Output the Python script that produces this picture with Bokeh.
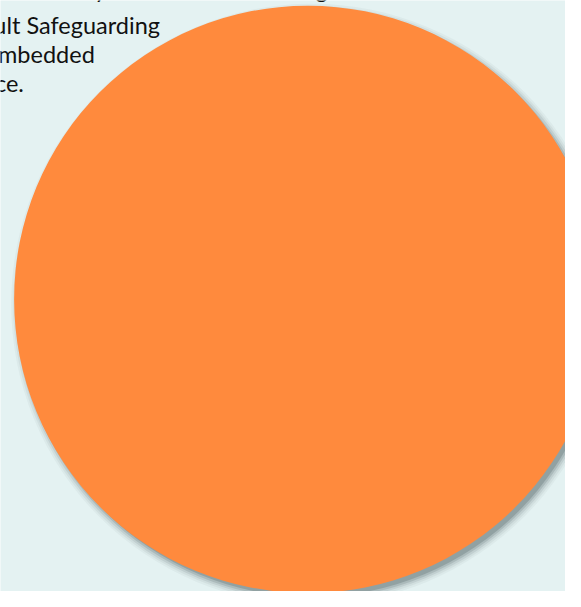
from bokeh.plotting import figure
from bokeh.models import Range1d, ColumnDataSource
from bokeh.core.properties import value
from bokeh.embed import file_html
from bokeh.resources import INLINE

# --- data (reference pixel space, y measured downward from top) ---
bubble_label = ["Adult Safeguarding"]
bubble_cx = [316]
bubble_cy = [307]
bubble_r = [302]

text_lines = [
    "Board is fully aware there is strong",
    "Adult Safeguarding",
    "embedded",
    "practice.",
]
text_right = [337, 164, 97, 24]
text_base = [-12, 25, 55, 85]

W, H = 581, 607
BG = "#E4F2F2"
ORANGE = "#FF8A3D"

p = figure(width=565, height=591, output_backend="svg", toolbar_location=None,
           x_range=Range1d(0, W), y_range=Range1d(0, H),
           min_border=0)
p.axis.visible = False
p.grid.visible = False
p.outline_line_color = None
p.background_fill_color = BG
p.border_fill_color = BG

# text (drawn first, behind the bubble)
tsrc = ColumnDataSource(dict(x=text_right, y=[H - b for b in text_base], t=text_lines))
p.text(x="x", y="y", text="t", source=tsrc, text_align="right",
       text_baseline="alphabetic", text_font=value("Lato"),
       text_font_size="23.5px", text_color="#111111")

# soft drop shadow
for k, a in [(7, 0.05), (5, 0.08), (3, 0.13), (1, 0.2), (-1, 0.3)]:
    p.circle(x=[c + 4 for c in bubble_cx], y=[H - (c + 5) for c in bubble_cy],
             radius=[r + k for r in bubble_r], fill_color="#56676a",
             fill_alpha=a, line_color=None)

src = ColumnDataSource(dict(x=bubble_cx, y=[H - c for c in bubble_cy],
                            r=bubble_r, label=bubble_label))
p.circle(x="x", y="y", radius="r", source=src, fill_color=ORANGE,
         line_color=None)

open("out.html", "w").write(file_html(p, INLINE))
